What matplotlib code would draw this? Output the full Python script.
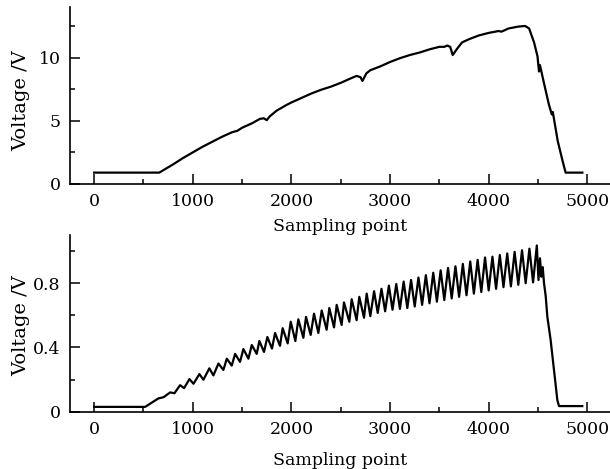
import matplotlib
matplotlib.use('Agg')
import matplotlib.pyplot as plt
from matplotlib.ticker import MultipleLocator

# top panel: voltage trace (sampling point, volts)
top_x = [0, 660, 800, 900, 1000, 1100, 1200, 1300, 1400, 1450, 1500, 1600,
         1680, 1720, 1750, 1780, 1850, 1950, 2000, 2100, 2200, 2300, 2400,
         2500, 2600, 2660, 2700, 2720, 2760, 2800, 2900, 3000, 3100, 3200,
         3300, 3400, 3500, 3550, 3580, 3610, 3635, 3680, 3730, 3800, 3900,
         4000, 4100, 4130, 4200, 4300, 4370, 4410, 4460, 4495, 4510, 4520,
         4560, 4610, 4640, 4650, 4700, 4750, 4780, 4950]
top_v = [0.9, 0.9, 1.55, 2.05, 2.5, 2.95, 3.35, 3.75, 4.1, 4.2, 4.45, 4.8,
         5.15, 5.2, 5.05, 5.35, 5.8, 6.25, 6.45, 6.8, 7.15, 7.45, 7.7,
         8.0, 8.35, 8.55, 8.45, 8.15, 8.75, 9.0, 9.3, 9.65, 9.95, 10.2,
         10.4, 10.65, 10.85, 10.85, 10.95, 10.85, 10.2, 10.7, 11.2, 11.45, 11.75,
         11.95, 12.1, 12.05, 12.3, 12.45, 12.5, 12.3, 11.2, 10.1, 8.9, 9.4,
         8.0, 6.3, 5.5, 5.7, 3.4, 1.8, 0.9, 0.9]

# bottom panel: oscillating trace, alternating troughs/peaks
bot_x = [0, 517, 652, 703, 770, 814, 871, 912, 966, 1007, 1067, 1108,
         1168, 1209, 1260, 1310, 1345, 1395, 1429, 1479, 1513, 1564, 1598,
         1648, 1675, 1722, 1756, 1803, 1834, 1884, 1911, 1962, 1993, 2040,
         2070, 2121, 2148, 2195, 2229, 2273, 2307, 2357, 2384, 2432, 2459,
         2509, 2533, 2587, 2611, 2661, 2688, 2736, 2763, 2800, 2838, 2875,
         2913, 2950, 2988, 3025, 3063, 3100, 3138, 3175, 3213, 3250, 3288,
         3325, 3363, 3400, 3438, 3475, 3513, 3550, 3588, 3625, 3663, 3700,
         3738, 3775, 3813, 3850, 3888, 3925, 3963, 4000, 4038, 4075, 4113,
         4150, 4188, 4225, 4263, 4300, 4338, 4375, 4413, 4450, 4488, 4505,
         4520, 4535, 4548, 4561, 4578, 4595, 4628, 4662, 4696, 4713, 4949]
bot_v = [0.03, 0.03, 0.083, 0.09, 0.12, 0.115, 0.165, 0.147, 0.203, 0.174,
         0.234, 0.199, 0.27, 0.226, 0.30, 0.26, 0.33, 0.287, 0.36, 0.31,
         0.39, 0.33, 0.415, 0.36, 0.44, 0.372, 0.465, 0.393, 0.49, 0.41,
         0.52, 0.425, 0.56, 0.44, 0.575, 0.46, 0.59, 0.478, 0.61, 0.49,
         0.63, 0.51, 0.645, 0.525, 0.665, 0.54, 0.68, 0.56, 0.70, 0.57,
         0.715, 0.585, 0.735, 0.595, 0.75, 0.615, 0.765, 0.625, 0.785, 0.635,
         0.795, 0.64, 0.81, 0.645, 0.82, 0.655, 0.835, 0.665, 0.85, 0.675,
         0.865, 0.685, 0.88, 0.695, 0.895, 0.705, 0.905, 0.715, 0.92, 0.725,
         0.935, 0.735, 0.945, 0.745, 0.96, 0.755, 0.965, 0.765, 0.975, 0.775,
         0.985, 0.78, 0.995, 0.79, 1.005, 0.80, 1.015, 0.805, 1.035, 0.82,
         0.955, 0.84, 0.90, 0.80, 0.72, 0.59, 0.447, 0.26, 0.073, 0.035, 0.035]

xticks = [0, 1000, 2000, 3000, 4000, 5000]

plt.rcParams['font.family'] = ['DejaVu Serif']

fig = plt.figure(figsize=(6.1, 4.69), dpi=100)
fig.patch.set_facecolor('white')

ax_top = fig.add_axes([69.5 / 610, 1 - 184 / 469, 1 - 69.5 / 610, 177 / 469])
ax_bot = fig.add_axes([69.5 / 610, 1 - 411.7 / 469, 1 - 69.5 / 610, 176.7 / 469])

# axes, data, y top, y ticks, minor step, xlabel pad, ylabel centre
panels = [
    (ax_top, top_x, top_v, 14.0, [0, 5, 10], 2.5, 6, 0.47),
    (ax_bot, bot_x, bot_v, 1.1, [0, 0.4, 0.8], 0.2, 10, 0.49),
]

for ax, xs, ys, ytop, yticks, yminor, xpad, ymid in panels:
    ax.plot(xs, ys, color='black', lw=1.6, solid_joinstyle='round')
    ax.set_xlim(-250, 5230)
    ax.set_ylim(0, ytop)
    ax.set_xticks(xticks)
    ax.set_yticks(yticks)
    ax.set_yticklabels(['0' if t == 0 else f'{t:g}' for t in yticks])
    ax.xaxis.set_minor_locator(MultipleLocator(500))
    ax.yaxis.set_minor_locator(MultipleLocator(yminor))
    ax.tick_params(which='both', direction='in', width=1.1, labelsize=12.5,
                   top=False, right=False)
    ax.tick_params(which='major', length=7, pad=6.5)
    ax.tick_params(which='minor', length=3.5)
    for side in ['top', 'right']:
        ax.spines[side].set_visible(False)
    for side in ['left', 'bottom']:
        ax.spines[side].set_linewidth(1.2)
    ax.set_xlabel('Sampling point', fontsize=12.5, labelpad=xpad)
    ax.set_ylabel('Voltage /V', fontsize=14)
    ax.yaxis.set_label_coords(-0.073, ymid)

fig.savefig('out.png', dpi=100, facecolor='white')
